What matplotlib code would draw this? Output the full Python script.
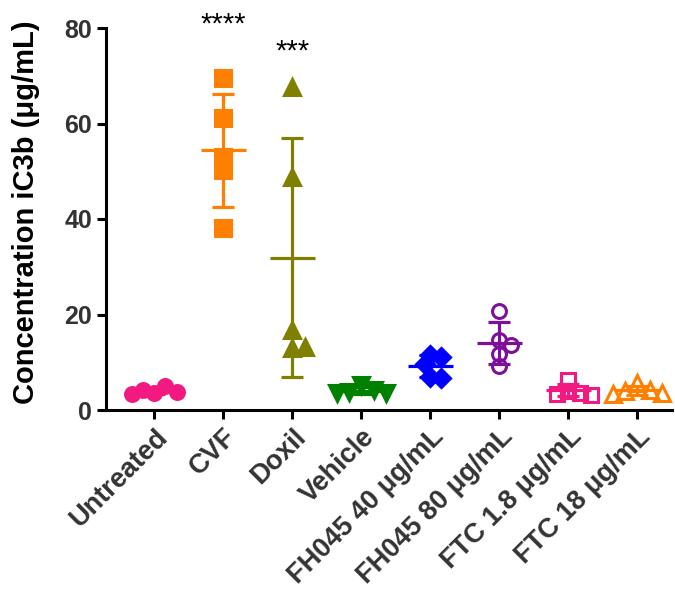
import numpy as np
import matplotlib
matplotlib.use("Agg")
import matplotlib.pyplot as plt

plt.rcParams['font.family'] = ['Liberation Sans', 'DejaVu Sans']

# groups and measured iC3b concentrations (ug/mL)
groups = ['Untreated', 'CVF', 'Doxil', 'Vehicle', 'FH045 40 μg/mL',
          'FH045 80 μg/mL', 'FTC 1.8 μg/mL', 'FTC 18 μg/mL']
untreated = [3.6, 5.0, 4.2, 3.7, 3.4]
cvf = [69.5, 61.1, 53.0, 50.3, 38.1]
doxil = [67.6, 48.9, 16.8, 12.9, 13.2]
vehicle = [5.2, 4.2, 3.8, 3.5, 3.6]
fh045_40 = [11.5, 11.2, 9.6, 7.0, 6.7]
fh045_80 = [20.8, 14.7, 13.6, 11.7, 9.2]
ftc_1_8 = [6.3, 4.0, 3.6, 3.4, 3.2]
ftc_18 = [5.6, 4.2, 3.9, 3.6, 3.3]

# significance marks: group index, text, height
star_pos = [1, 2]
star_txt = ['****', '***']
star_y = [79.0, 73.4]

series = [untreated, cvf, doxil, vehicle, fh045_40, fh045_80, ftc_1_8, ftc_18]
colors = ['#F21A80', '#FF8000', '#808000', '#008000', '#0000FF',
          '#7D0F9A', '#F21A80', '#FF8000']
markers = ['o', 's', '^', 'v', 'D', 'o', 's', '^']
filled = [True, True, True, True, True, False, False, False]
msizes = [10, 11, 11, 11, 9.5, 10, 10, 11]


def swarm(vals, pos, ax, diam):
    # spread points sideways when they would overlap (pixel units)
    pts = ax.transData.transform([(pos, v) for v in vals])
    placed = []
    xs = []
    for px, py in pts:
        k = 0
        while True:
            step = (k + 1) // 2 * (1 if k % 2 else -1) if k else 0
            cx = px + step * diam * 0.4
            if all((cx - qx) ** 2 + (py - qy) ** 2 >= (diam * 0.75) ** 2
                   for qx, qy in placed):
                break
            k += 1
        placed.append((cx, py))
        xs.append(ax.transData.inverted().transform((cx, py))[0])
    return xs


fig = plt.figure(figsize=(6.75, 6.03), dpi=100)
ax = fig.add_axes([106 / 675, 1 - 410 / 603, 566 / 675, 382 / 603])
ax.set_xlim(-0.7, 7.5)
ax.set_ylim(0, 80)

for i, vals in enumerate(series):
    xs = swarm(vals, i, ax, msizes[i] * fig.dpi / 72)
    c = colors[i]
    ax.plot(xs, vals, ls='none', marker=markers[i], ms=msizes[i],
            mfc=c if filled[i] else 'none', mec=c, mew=2.2, zorder=3,
            clip_on=False)
    m = np.mean(vals)
    sd = np.std(vals, ddof=1)
    ax.errorbar(i, m, yerr=sd, fmt='none', ecolor=c, elinewidth=2.3,
                capsize=8, capthick=2.3, zorder=4)
    ax.hlines(m, i - 0.33, i + 0.33, color=c, lw=2.3, zorder=4)

for i, s, y in zip(star_pos, star_txt, star_y):
    ax.text(i, y, s, ha='center', va='baseline', fontsize=21,
            color='black', clip_on=False)

ax.spines['top'].set_visible(False)
ax.spines['right'].set_visible(False)
for side in ['left', 'bottom']:
    ax.spines[side].set_linewidth(2.2)
ax.set_yticks([0, 20, 40, 60, 80])
ax.set_xticks(range(len(groups)))
ax.set_xticklabels(groups, rotation=45, ha='right', rotation_mode='anchor')
ax.tick_params(width=2.2, length=6.5, labelsize=18, labelcolor='#333333')
ax.tick_params(axis='x', labelsize=19.5)
for lab in ax.get_xticklabels() + ax.get_yticklabels():
    lab.set_fontweight('bold')
ax.set_ylabel('Concentration iC3b (μg/mL)', fontsize=21, fontweight='bold')
ax.yaxis.set_label_coords(-0.117, 0.518)

fig.savefig('out.png', dpi=100)
